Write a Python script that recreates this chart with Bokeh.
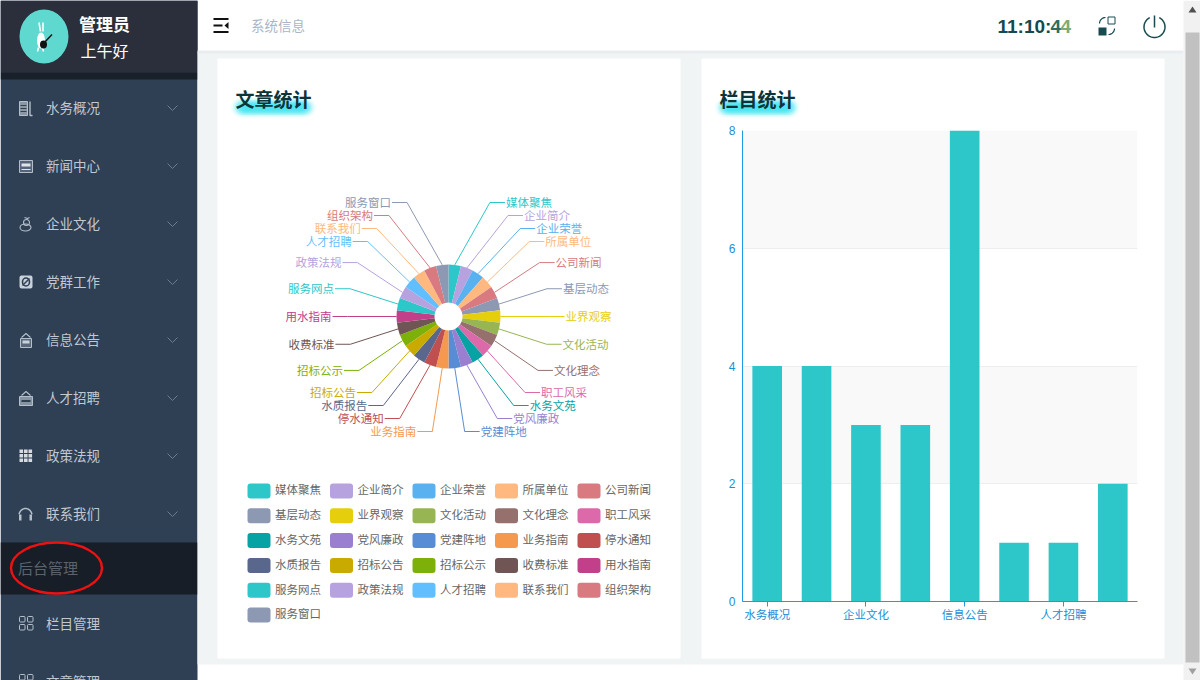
import math
import numpy as np
from bokeh.core.properties import value
from bokeh.embed import file_html
from bokeh.models import ColumnDataSource, FixedTicker, Range1d
from bokeh.plotting import figure
from bokeh.resources import INLINE

# ---- chart data ----
pie_categories = ["媒体聚焦", "企业简介", "企业荣誉", "所属单位", "公司新闻", "基层动态", "业界观察",
                  "文化活动", "文化理念", "职工风采", "水务文苑", "党风廉政", "党建阵地", "业务指南",
                  "停水通知", "水质报告", "招标公告", "招标公示", "收费标准", "用水指南", "服务网点",
                  "政策法规", "人才招聘", "联系我们", "组织架构", "服务窗口"]
pie_values = [1, 1, 1, 1, 1, 1, 1, 1, 1, 1, 1, 1, 1, 1, 1, 1, 1, 1, 1, 1, 1, 1, 1, 1, 1, 1]
pie_colors = ["#2ec7c9", "#b6a2de", "#5ab1ef", "#ffb980", "#d87a80", "#8d98b3", "#e5cf0d",
              "#97b552", "#95706d", "#dc69aa", "#07a2a4", "#9a7fd1", "#588dd5", "#f5994e",
              "#c05050", "#59678c", "#c9ab00", "#7eb00a", "#6f5553", "#c14089", "#2ec7c9",
              "#b6a2de", "#62bfff", "#ffb980", "#d87a80", "#8d98b3"]
bar_categories = ["水务概况", "新闻中心", "企业文化", "党群工作", "信息公告", "政策法规", "人才招聘", "联系我们"]
bar_values = [4, 4, 3, 3, 8, 1, 1, 2]
y_ticks = [0, 2, 4, 6, 8]
menu_items = ["水务概况", "新闻中心", "企业文化", "党群工作", "信息公告", "人才招聘", "政策法规", "联系我们"]
admin_items = ["栏目管理", "文章管理"]

CJK = "Noto Sans CJK SC"
LATIN = "Liberation Sans"
SIDE = "#2f3f54"
ICON = "#b4bfca"
CJK_SHIFT = 1.7  # the CJK face sits low against a middle baseline


def absolute(left, top):
    return {"position": "absolute", "left": f"{left}px", "top": f"{top}px"}


# ---- page background ----
bg = figure(width=1200, height=680, x_range=(0, 1200), y_range=(680, 0), output_backend="svg",
            toolbar_location=None, x_axis_location=None, y_axis_location=None, min_border=0,
            outline_line_color=None, styles=absolute(0, 0))
bg.background_fill_color = "#ffffff"
bg.border_fill_color = "#ffffff"
bg.grid.visible = False


def box(l, t, r, b, color, radius=0, line=None):
    bg.quad(left=[l], right=[r], top=[t], bottom=[b], fill_color=color, line_color=line,
            border_radius=radius)


def stroke(xs, ys, color=ICON, width=1.2):
    bg.line(xs, ys, line_color=color, line_width=width)


def label(x, y, s, size, color, style="normal", font=CJK, align="left"):
    yy = y - CJK_SHIFT if font == CJK else y
    bg.text([x], [yy], text=[s], text_font=value(font), text_font_size=size, text_color=color,
            text_font_style=style, text_baseline="middle", text_align=align)


box(0, 0, 197, 680, SIDE)
box(0, 0, 197, 72, "#2b2f3b")
box(0, 72, 197, 79, "#1a2029")
box(0, 542, 197, 594, "#171e28")
box(197, 52, 1183, 664, "#f1f4f5")
box(197, 50, 1183, 53, "#e9edef")
box(217, 58, 680, 658, "#ffffff")
box(701, 58, 1164, 658, "#ffffff")
box(1183, 0, 1200, 680, "#f1f1f1")
box(1185, 32, 1199, 662, "#c1c1c1")
bg.patch([1188, 1192, 1196], [12, 6, 12], fill_color="#505050", line_color=None)
bg.patch([1188, 1192, 1196], [668, 674, 668], fill_color="#a0a0a0", line_color=None)

# avatar
bg.ellipse([43.5], [36], width=49, height=54, fill_color="#5fd8d0", line_color=None)
stroke([40, 38.5], [31, 22], "#ffffff", 1.6)
stroke([42.5, 42.5], [31, 22], "#ffffff", 1.6)
bg.ellipse([40.5], [40], width=8, height=16, fill_color="#ffffff", line_color=None)
stroke([38, 37], [47, 51], "#ffffff", 1.5)
stroke([42, 43], [47, 51], "#ffffff", 1.5)
bg.ellipse([43], [44], width=7, height=8, fill_color="#111111", line_color=None)
stroke([43, 51.5], [43, 34], "#111111", 1.4)
label(78.5, 25, "管理员", "17px", "#ffffff", "bold")
label(80, 51, "上午好", "16px", "#ffffff")

# menu
ys_menu = [108 + 58 * i for i in range(len(menu_items))]
for s, y in zip(menu_items, ys_menu):
    label(45.5, y, s, "13.5px", "#c0c8d2")
    stroke([167, 172, 177], [y - 3, y + 2, y - 3], "#6d7c8e", 1)
label(17.5, 569, "后台管理", "15px", "#5b636c")
for s, y in zip(admin_items, [624, 682]):
    label(45.5, y, s, "13.5px", "#c0c8d2")

# menu icons
y = ys_menu[0]
box(19, y - 7, 27, y + 7, "#8b97a5", line=ICON)
for d in (-3, 0, 3):
    stroke([20, 26], [y + d, y + d], "#2f3f54", 1)
stroke([29.5, 29.5, 32], [y - 7, y + 7, y + 7], ICON, 1.4)
y = ys_menu[1]
box(19, y - 6, 32, y + 6, "#55647a", line=ICON)
box(21, y - 3, 30, y + 0, "#dfe4e9")
stroke([21, 30], [y + 3, y + 3], "#dfe4e9", 1)
y = ys_menu[2]
bg.ellipse([25], [y + 3], width=11, height=7, fill_color=None, line_color=ICON, line_width=1.1)
bg.ellipse([26], [y - 2], width=6, height=6, fill_color=None, line_color=ICON, line_width=1.1)
stroke([24, 27, 29], [y - 7, y - 6, y - 7], ICON, 1.1)
y = ys_menu[3]
box(19, y - 7, 32, y + 6, "#c9d1d9", radius=2)
bg.ellipse([25.5], [y - 0.5], width=7, height=8, fill_color=None, line_color="#2f3f54", line_width=1.6)
stroke([22, 29], [y + 3, y - 4], "#2f3f54", 1.4)
y = ys_menu[4]
box(20, y - 2, 31, y + 7, "#59687c", line=ICON)
box(22, y, 29, y + 3, "#c9d1d9")
stroke([21, 25.5, 30], [y - 3, y - 7, y - 3], ICON, 1.1)
y = ys_menu[5]
box(19, y - 2, 32, y + 7, "#8593a3", line=ICON)
stroke([21, 30], [y + 2.5, y + 2.5], "#2f3f54", 2)
stroke([21, 25.5, 30], [y - 3, y - 7, y - 3], ICON, 1.1)
y = ys_menu[6]
for a in (19, 23.5, 28):
    for b in (-7, -2.5, 2):
        box(a, y + b, a + 3.6, y + b + 3.6, "#d5dbe1")
y = ys_menu[7]
t = np.linspace(math.pi * 1.05, math.pi * 1.95, 14)
stroke(list(25 + 6.5 * np.cos(t)), list(y + 1 + 7 * np.sin(t)), ICON, 1.5)
box(18.5, y, 21, y + 6, ICON)
box(29, y, 31.5, y + 6, ICON)
for y in (624, 682):
    for a, b in ((19, -8), (27, -8), (19, 0), (27, 0)):
        box(a, y + b, a + 5.5, y + b + 5.5, "#2f3f54", radius=1, line=ICON)

# circled highlight
bg.ellipse([56], [567.5], width=91, height=51, fill_color=None, line_color="#ee1111", line_width=2.4)

# header
stroke([213, 228], [18.5, 18.5], "#111111", 2)
stroke([213, 222], [25, 25], "#111111", 2)
stroke([213, 228], [31.5, 31.5], "#111111", 2)
bg.patch([228, 224, 228], [21.5, 25, 28.5], fill_color="#111111", line_color=None)
label(250.5, 26, "系统信息", "13.5px", "#a9b6c7")

label(997, 25.5, "11:10:", "19px", "#134a4e", "bold", LATIN)
label(1050, 25.5, "4", "19px", "#2d6e60", "bold", LATIN)
label(1060, 25.5, "4", "19px", "#7eab6e", "bold", LATIN)

DARK = "#184a50"
box(1107.5, 16.5, 1114.5, 23.5, "#ffffff", line=DARK)
box(1098, 27, 1106, 35, DARK)
t = np.linspace(math.pi * 1.0, math.pi * 1.5, 8)
stroke(list(1105 + 6 * np.cos(t)), list(23 + 6 * np.sin(t)), DARK, 1.2)
t = np.linspace(0, math.pi * 0.5, 8)
stroke(list(1108 + 6 * np.cos(t)), list(28 + 6 * np.sin(t)), DARK, 1.2)
t = np.linspace(math.pi * 1.65, math.pi * 3.35, 40)
stroke(list(1154 + 10.5 * np.cos(t)), list(26.5 + 10.5 * np.sin(t)), DARK, 1.5)
stroke([1154, 1154], [15, 27], DARK, 1.5)

# titles with cyan glow
for x0, x1, title in ((240, 308, "文章统计"), (724, 792, "栏目统计")):
    gx = list(np.arange(x0, x1 + 1, 3.0))
    for size, alpha in ((20, 0.05), (16, 0.10), (12, 0.16), (8, 0.18)):
        bg.scatter(gx, [107] * len(gx), size=size, fill_color="#35e4f5", fill_alpha=alpha, line_color=None)
    label(x0 - 5, 99.5, title, "19px", "#0f3438", "bold")

# ---- pie chart, one data unit = one screen pixel ----
P_LEFT, P_TOP, P_W, P_H, CX, CY = 217, 130, 463, 510, 448, 316
pie = figure(width=P_W, height=P_H, x_range=Range1d(P_LEFT - CX, P_LEFT + P_W - CX),
             y_range=Range1d(CY - P_TOP - P_H, CY - P_TOP), output_backend="svg", toolbar_location=None,
             x_axis_location=None, y_axis_location=None, min_border=0, outline_line_color=None,
             background_fill_color=None, border_fill_color=None, styles=absolute(P_LEFT, P_TOP))
pie.grid.visible = False
total = sum(pie_values)
ends = np.cumsum(pie_values) / total * 2 * math.pi
starts = ends - np.array(pie_values) / total * 2 * math.pi
mids = (starts + ends) / 2
pie.annular_wedge(x=0, y=0, inner_radius=14, outer_radius=52, start_angle=math.pi / 2 - starts,
                  end_angle=math.pi / 2 - ends, direction="clock", fill_color=pie_colors, line_color=None)

# label layout: radial position, pushed apart to keep a minimum gap on each side
R_OUT, R_LABEL, GAP, A, B_UP, B_DOWN, TAIL = 52, 116, 13, 101, 125, 116.5, 15
dy = R_LABEL * np.cos(mids)
for order, sign, cap in ((range(0, 7), 1, 114), (range(12, 6, -1), -1, 115),
                         (range(25, 19, -1), 1, 114), (range(13, 20), -1, 115)):
    limit = cap
    for i in order:
        dy[i] = sign * min(sign * dy[i], limit)
        limit = sign * dy[i] - GAP
side = np.where(mids < math.pi, 1, -1)
ellipse_b = np.where(dy > 0, B_UP, B_DOWN)
elbow_x = side * A * np.sqrt(np.clip(1 - (dy / ellipse_b) ** 2, 0, 1))
line_x = [[R_OUT * math.sin(m), float(e), float(e + s * TAIL)] for m, e, s in zip(mids, elbow_x, side)]
line_y = [[R_OUT * math.cos(m), float(d), float(d)] for m, d in zip(mids, dy)]
pie.multi_line(line_x, line_y, line_color=pie_colors, line_width=1)
text_x = elbow_x + side * (TAIL + 1)
pie.text(text_x, dy + CJK_SHIFT - 1.2, text=pie_categories, text_color=pie_colors, text_font=value(CJK),
         text_font_size="11.5px", text_baseline="middle", text_align=["left" if s > 0 else "right" for s in side])

# legend
n_col, x_step, y_step, sw_w, sw_h = 5, 82.5, 24.8, 23, 15
lx = np.array([(i % n_col) * x_step for i in range(len(pie_categories))]) + 247 - CX
ly = CY - (np.array([(i // n_col) * y_step for i in range(len(pie_categories))]) + 490.5)
pie.quad(left=lx, right=lx + sw_w, top=ly + sw_h / 2, bottom=ly - sw_h / 2, fill_color=pie_colors,
         line_color=None, border_radius=3)
pie.text(lx + sw_w + 4.5, ly + CJK_SHIFT, text=pie_categories, text_color="#666666", text_font=value(CJK),
         text_font_size="11.5px", text_baseline="middle", text_align="left")

# ---- bar chart ----
B_LEFT, B_TOP, B_W, B_H = 700, 100, 465, 540
AXIS = "#1e9be3"
bar = figure(width=B_W, height=B_H, x_range=Range1d(-0.5, len(bar_categories) - 0.5), y_range=Range1d(0, 8),
             output_backend="svg", toolbar_location=None, min_border_left=42, min_border_right=28,
             min_border_top=30, min_border_bottom=39, outline_line_color=None, background_fill_color=None,
             border_fill_color=None, styles=absolute(B_LEFT, B_TOP))
source = ColumnDataSource(dict(x=list(range(len(bar_categories))), v=bar_values))
bar.vbar(x="x", top="v", width=0.6, bottom=0, source=source, fill_color="#2ec7c9", line_color=None)
bar.xgrid.visible = False
bar.ygrid.ticker = FixedTicker(ticks=y_ticks)
bar.ygrid.grid_line_color = "#eeeeee"
bar.ygrid.band_fill_color = "#aaaaaa"
bar.ygrid.band_fill_alpha = 0.07
bar.ygrid.level = "underlay"
bar.xaxis.ticker = FixedTicker(ticks=list(range(0, len(bar_categories), 2)))
bar.xaxis.major_label_overrides = {i: c for i, c in enumerate(bar_categories)}
bar.yaxis.ticker = FixedTicker(ticks=y_ticks)
for ax in (bar.xaxis[0], bar.yaxis[0]):
    ax.axis_line_color = AXIS
    ax.axis_line_width = 1
    ax.major_label_text_color = "#1a8fd8"
    ax.major_label_text_font = CJK
    ax.major_label_text_font_size = "11.5px"
    ax.minor_tick_line_color = None
bar.yaxis.major_label_text_font = LATIN
bar.yaxis.major_label_text_font_size = "12px"
bar.xaxis.major_tick_in = 0
bar.xaxis.major_tick_out = 5
bar.xaxis.major_tick_line_color = AXIS
bar.xaxis.major_label_standoff = -1
bar.yaxis.major_tick_line_color = None
bar.yaxis.major_tick_in = 0
bar.yaxis.major_tick_out = 0
bar.yaxis.major_label_standoff = 7

open("out.html", "w").write(file_html([bg, pie, bar], INLINE))
